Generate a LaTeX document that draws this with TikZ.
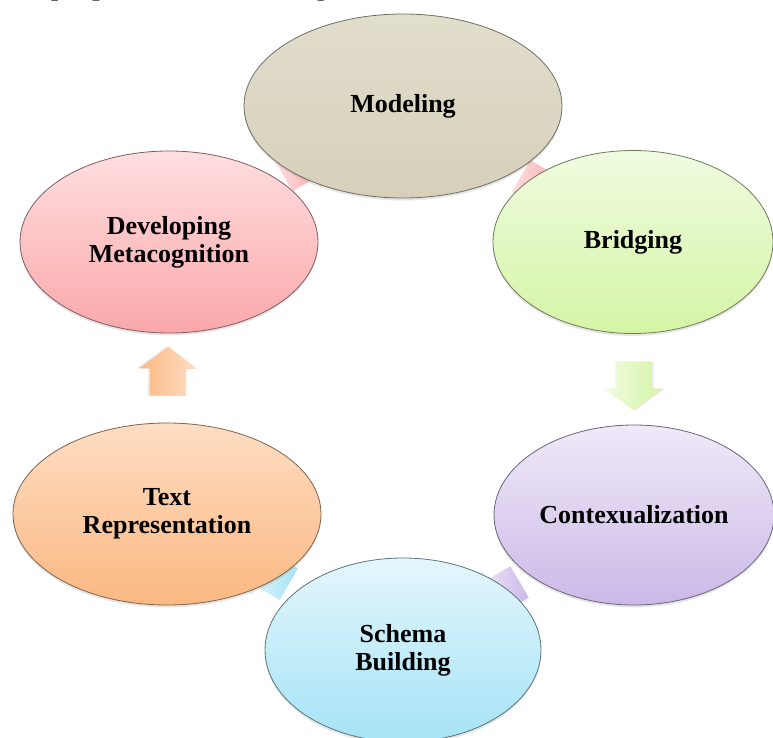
\documentclass[tikz,border=0pt]{standalone}
\usepackage{fontspec}
\setmainfont{Liberation Serif}
\usetikzlibrary{shapes.geometric,shapes.arrows,shadows,backgrounds}

\definecolor{modtop}{RGB}{226,222,204}
\definecolor{modbot}{RGB}{214,208,186}
\definecolor{bridtop}{RGB}{240,251,224}
\definecolor{bridbot}{RGB}{212,245,165}
\definecolor{contop}{RGB}{240,233,248}
\definecolor{conbot}{RGB}{203,185,232}
\definecolor{schtop}{RGB}{228,246,252}
\definecolor{schbot}{RGB}{165,227,246}
\definecolor{textop}{RGB}{255,221,195}
\definecolor{texbot}{RGB}{250,184,130}
\definecolor{mettop}{RGB}{255,222,224}
\definecolor{metbot}{RGB}{250,168,170}

\begin{document}
\begin{tikzpicture}[x=1pt, y=-1pt,
  stage/.style 2 args={ellipse, top color=#1, bottom color=#2, draw=#2!50!black!80!gray, line width=0.8pt, inner sep=0pt, align=center, font=\fontsize{26}{28}\selectfont\bfseries, drop shadow={shadow xshift=0pt, shadow yshift=-2.5pt, opacity=0.2}},
  turn/.style 2 args={single arrow, left color=#1, right color=#2, draw=none, inner xsep=0pt, inner ysep=18pt, minimum height=49pt, single arrow head extend=11pt, single arrow tip angle=106, midway, sloped, allow upside down},
  slim/.style={pos=0.45, anchor=tail}]
\useasboundingbox (0,0) rectangle (773,738);
\clip (0,0) rectangle (773,738);
\node[anchor=base west, inner sep=0pt, font=\fontsize{31}{36}\selectfont] (intro) at (5,-5) {the purpose of scaffolding the instruction.}; % cut-off line of text
% the six stages
\node[stage={modtop}{modbot}, minimum width=318pt, minimum height=184pt] (modeling) at (403,106) {Modeling};
\node[stage={bridtop}{bridbot}, minimum width=280pt, minimum height=183pt] (bridging) at (633,242) {Bridging};
\node[stage={contop}{conbot}, minimum width=280pt, minimum height=180pt] (context) at (634,515) {Contexualization};
\node[stage={schtop}{schbot}, minimum width=276pt, minimum height=184pt] (schema) at (403,650) {Schema\\Building};
\node[stage={textop}{texbot}, minimum width=308pt, minimum height=182pt] (textrep) at (167,514) {Text\\Representation};
\node[stage={mettop}{metbot}, minimum width=298pt, minimum height=182pt] (metacog) at (169,242) {Developing\\Metacognition};
% arrows round the cycle, behind the stages
\begin{scope}[on background layer]
\path (modeling) -- (bridging) node[turn={mettop}{metbot}, slim] (mb) {};
\path (bridging) -- (context) node[turn={bridtop}{bridbot}, drop shadow={shadow xshift=2pt, shadow yshift=0pt, opacity=0.15}] (bc) {};
\path (context) -- (schema) node[turn={contop}{conbot}, slim] (cs) {};
\path (schema) -- (textrep) node[turn={schtop}{schbot}, slim] (st) {};
\path (textrep) -- (metacog) node[turn={texbot}{textop}, drop shadow={shadow xshift=-2pt, shadow yshift=0pt, opacity=0.15}] (tm) {};
\path (metacog) -- (modeling) node[turn={mettop}{metbot}, slim] (mm) {};
\end{scope}
\end{tikzpicture}
\end{document}
